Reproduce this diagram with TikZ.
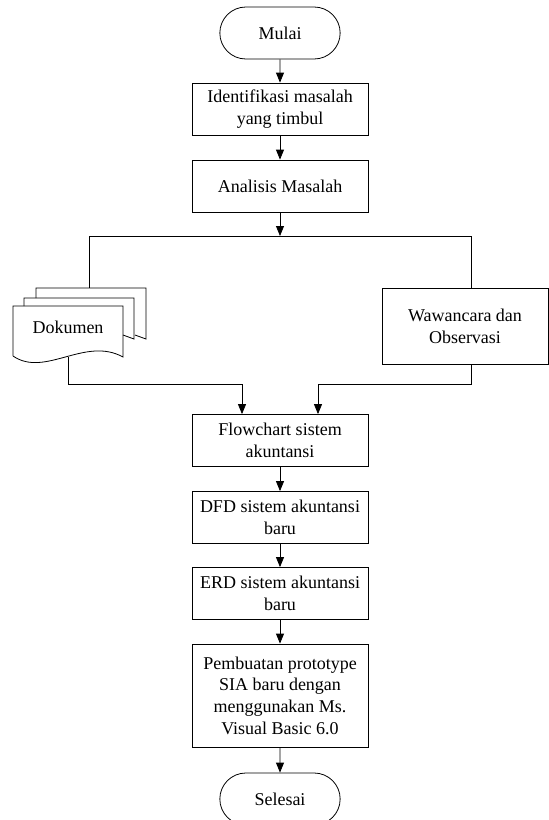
\documentclass[tikz,border=0pt]{standalone}
\usepackage{fontspec}
\setmainfont{Liberation Serif}
\usetikzlibrary{shapes.misc,arrows.meta}

\tikzset{
  proc/.style={draw, minimum width=176pt, minimum height=52pt, align=center, inner sep=2pt},
  term/.style={draw, rounded rectangle, minimum width=127pt, minimum height=52pt},
}

\begin{document}
\begin{tikzpicture}
[x=1pt,y=-1pt,font=\fontsize{18}{21.7}\selectfont,line width=0.8pt,>={Triangle[length=10pt,width=8pt]}]
\useasboundingbox (0,0) rectangle (549,820);

\node[term] (mulai) at (280,33) {Mulai};
\node[proc] (ident) at (280,109) {Identifikasi masalah\\yang timbul};
\node[proc] (analisis) at (280,186) {Analisis Masalah};
\node[proc,minimum width=166pt,minimum height=76pt] (waw) at (465,326) {Wawancara dan\\Observasi};
\node[proc] (flow) at (280,440.5) {Flowchart sistem\\akuntansi};
\node[proc] (dfd) at (280,517.5) {DFD sistem akuntansi\\baru};
\node[proc] (erd) at (280,593.5) {ERD sistem akuntansi\\baru};
\node[proc,minimum height=103pt] (pemb) at (280,695.5) {Pembuatan prototype\\SIA baru dengan\\menggunakan Ms.\\Visual Basic 6.0};
\node[term] (selesai) at (280,799) {Selesai};

\draw (36,298) -- (36,288) -- (146,288) -- (146,339) -- (135,335);
\draw (24,306) -- (24,298) -- (134,298) -- (134,339) -- (123,335);
\draw (13,356) -- (13,306) -- (123,306) -- (123,357) .. controls (85,336) and (45,378) .. (13,356);
\node (dok) at (68,327) {Dokumen};
\coordinate (dokin) at (89,288);
\coordinate (dokout) at (68,357);

\coordinate (split) at (280,236);
\coordinate (bl) at (89,236);
\coordinate (br) at (471,236);
\coordinate (jl) at (242,384);
\coordinate (jr) at (318,384);

\draw[->] (mulai) -- (ident);
\draw[->] (ident) -- (analisis);
\draw[->] (analisis) -- (split);
\draw (bl) -- (br);
\draw (bl) -- (dokin);
\draw (br) -- (br |- waw.north);
\draw[->] (dokout) |- (jl) -- (jl |- flow.north);
\draw[->] (br |- waw.south) |- (jr) -- (jr |- flow.north);
\draw[->] (flow) -- (dfd);
\draw[->] (dfd) -- (erd);
\draw[->] (erd) -- (pemb);
\draw[->] (pemb) -- (selesai);
\end{tikzpicture}
\end{document}
